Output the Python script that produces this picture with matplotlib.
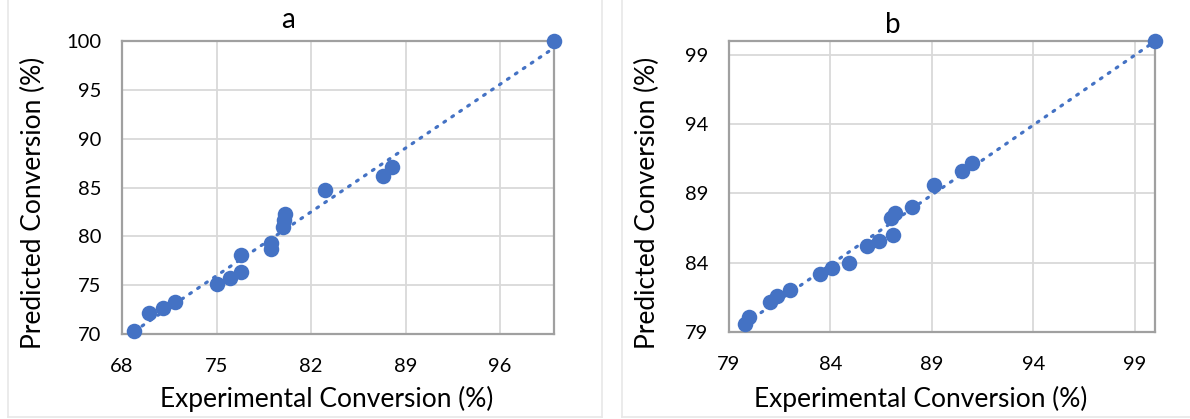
import numpy as np
import matplotlib
matplotlib.use("Agg")
import matplotlib.pyplot as plt
from matplotlib.lines import Line2D

plt.rcParams['font.family'] = ['Lato', 'DejaVu Sans']

# Panel a data
a_exp = [68.9, 70.0, 71.0, 71.9, 75.0, 76.0, 76.8, 76.8, 79.0, 79.0, 79.9, 80.0, 80.1, 83.0, 87.3, 88.0, 100.0]
a_pred = [70.3, 72.1, 72.7, 73.3, 75.1, 75.7, 76.3, 78.1, 78.7, 79.3, 81.0, 81.7, 82.3, 84.7, 86.2, 87.1, 100.0]
a_xticks = [68, 75, 82, 89, 96]
a_yticks = [70, 75, 80, 85, 90, 95, 100]

# Panel b data
b_exp = [79.8, 80.0, 81.0, 81.35, 82.0, 83.5, 84.1, 84.9, 85.8, 86.4, 87.1, 87.0, 87.2, 88.0, 89.1, 90.5, 91.0, 100.0]
b_pred = [79.6, 80.1, 81.2, 81.6, 82.05, 83.2, 83.6, 84.0, 85.2, 85.6, 86.0, 87.2, 87.6, 88.0, 89.6, 90.6, 91.2, 100.0]
b_xticks = [79, 84, 89, 94, 99]
b_yticks = [79, 84, 89, 94, 99]

XLABEL = 'Experimental Conversion (%)'
YLABEL = 'Predicted Conversion (%)'

BLUE = '#4472C4'
W, H = 1190, 419
fig = plt.figure(figsize=(W / 100, H / 100), dpi=100)

def box(px0, py0, px1, py1):
    return [px0 / W, 1 - py1 / H, (px1 - px0) / W, (py1 - py0) / H]

def panel(rect, xs, ys, xlim, ylim, xticks, yticks):
    ax = fig.add_axes(rect)
    ax.set_xlim(*xlim)
    ax.set_ylim(*ylim)
    ax.set_xticks(xticks)
    ax.set_yticks(yticks)
    ax.grid(True, color='#d9d9d9', lw=1.3, zorder=0)
    ax.set_axisbelow(True)
    for s in ax.spines.values():
        s.set_color('#a0a0a0')
        s.set_linewidth(1.6)
    ax.tick_params(length=0, labelsize=14.5, pad=15, colors='#000000')
    ax.tick_params(axis='x', pad=17)
    ax.scatter(xs, ys, s=125, color=BLUE, zorder=3, linewidths=0, clip_on=False)
    k, b = np.polyfit(xs, ys, 1)
    xx = np.array([min(xs), max(xs)])
    ax.plot(xx, k * xx + b, color=BLUE, lw=2.3, ls=(0, (0.6, 2.4)),
            dash_capstyle='round', zorder=2, clip_on=False)
    return ax

axa = panel(box(122, 41, 554, 334), a_exp, a_pred, (68, 100), (70, 100), a_xticks, a_yticks)
axb = panel(box(729, 41, 1155, 332), b_exp, b_pred, (79, 100), (79, 100), b_xticks, b_yticks)

# axis titles
fig.text(327 / W, 1 - 399 / H, XLABEL, fontsize=19, ha='center', va='center')
fig.text(921 / W, 1 - 399 / H, XLABEL, fontsize=19, ha='center', va='center')
fig.text(33 / W, 1 - 203 / H, YLABEL, fontsize=19, ha='center', va='center', rotation=90)
fig.text(647 / W, 1 - 203 / H, YLABEL, fontsize=19, ha='center', va='center', rotation=90)

fig.text(288 / W, 1 - 28 / H, 'a', fontsize=20, ha='center', va='baseline')
fig.text(893 / W, 1 - 33 / H, 'b', fontsize=20, ha='center', va='baseline')

# chart area borders
bc = '#e8e8e8'
for (x0, x1) in [(8, 602), (622, 1200)]:
    fig.add_artist(Line2D([x0 / W, x0 / W], [1 - 417 / H, 1.0], transform=fig.transFigure, color=bc, lw=1.2))
    fig.add_artist(Line2D([x0 / W, min(x1, W) / W], [1 - 417 / H, 1 - 417 / H], transform=fig.transFigure, color=bc, lw=1.2))
    if x1 < W:
        fig.add_artist(Line2D([x1 / W, x1 / W], [1 - 417 / H, 1.0], transform=fig.transFigure, color=bc, lw=1.2))

fig.savefig('out.png', dpi=100)
